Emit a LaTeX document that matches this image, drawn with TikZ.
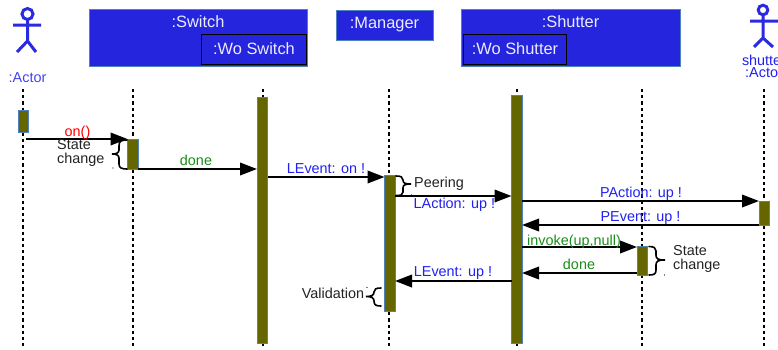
\documentclass[tikz,border=0pt]{standalone}
\usepackage{fontspec}
\setmainfont{Liberation Sans}
\usetikzlibrary{arrows.meta}
\definecolor{boxblue}{HTML}{2525DD}
\definecolor{edgeblue}{HTML}{4F81BD}
\definecolor{txtblue}{HTML}{2020F0}
\definecolor{actblue}{HTML}{2A2AE0}
\definecolor{txtgreen}{HTML}{1A8C1A}
\definecolor{olive}{HTML}{666600}
\definecolor{txtgrey}{HTML}{222222}
\tikzset{
  x=1pt,y=-1pt,
  lifeline/.style={black,line width=2pt,dash pattern=on 3.2pt off 3pt},
  activation/.style={draw=edgeblue,fill=olive,line width=1pt,inner sep=0pt,outer sep=0pt,anchor=north west,minimum width=10.5pt},
  objbox/.style={draw=edgeblue,fill=boxblue,line width=1pt,inner sep=0pt,outer sep=0pt,anchor=north west},
  innerbox/.style={draw=black,fill=boxblue,line width=1pt,inner sep=0pt,outer sep=0pt,anchor=north west},
  boxtext/.style={text=white!92!blue,font=\fontsize{16.4}{18}\selectfont,inner sep=0pt},
  lbl/.style={font=\fontsize{14.4}{14}\selectfont,inner sep=0pt},
  msg/.style={black,line width=2pt,-{Triangle[length=17pt,width=12.5pt]},shorten >=0pt},
  brace/.style={black,line width=1.6pt,line cap=round},
  stick/.style={actblue,line width=3pt},
  speck/.style={fill=black,inner sep=0pt,minimum size=1.2pt,circle,draw=none},
}
\begin{document}
\begin{tikzpicture}
\useasboundingbox (0,0) rectangle (778,349);
% object boxes
\node[objbox,minimum width=218pt,minimum height=57pt] (switch) at (89,9) {};
\node[innerbox,minimum width=104.5pt,minimum height=30pt] (woswitch) at (201.5,34.5) {};
\node[objbox,minimum width=97pt,minimum height=30pt] (manager) at (336,10) {};
\node[objbox,minimum width=218.5pt,minimum height=57pt] (shutter) at (461.5,9) {};
\node[innerbox,minimum width=103.5pt,minimum height=30pt] (woshutter) at (463,34.5) {};
\node[boxtext] (tswitch) at (198,21.5) {:Switch};
\node[boxtext] (twoswitch) at (254,48.5) {:Wo Switch};
\node[boxtext] (tmanager) at (384.5,25) {:Manager};
\node[boxtext] (tshutter) at (570.5,21.5) {:Shutter};
\node[boxtext] (twoshutter) at (515,48.5) {:Wo Shutter};
% actors
\draw[stick] (27.5,14) circle (5.5);
\draw[stick] (13,25) -- (41,25) (27.5,19) -- (27.5,41) (17,52) -- (27.5,41) -- (36,52);
\draw[stick] (763,10) circle (4.8);
\draw[stick] (750,21) -- (778,21) (763,15) -- (763,38) (754,47) -- (763,38) -- (773,47);
\node[lbl,text=txtblue!85!white] (tactor) at (27.5,78) {:Actor};
\node[lbl,text=txtblue,align=center,font=\fontsize{14.4}{12.4}\selectfont] (tactor2) at (764,66.5) {shutter\\:Actor};
% lifelines
\foreach \n/\x in {a/23,b/133,c/263,d/389,e/516.5,f/642,g/764}{
  \coordinate (\n top) at (\x,89);
  \coordinate (\n bot) at (\x,348);
  \draw[lifeline] (\n top) -- (\n bot);
}
% activations
\node[activation,minimum height=22pt] (barA) at (18,110) {};
\node[activation,minimum height=29.5pt] (barB) at (127.5,139.5) {};
\node[activation,minimum height=246pt] (barC) at (257,97) {};
\node[activation,minimum height=136pt] (barD) at (384.5,175) {};
\node[activation,minimum height=248pt] (barE) at (511.5,95) {};
\node[activation,minimum height=28.5pt] (barF) at (637,246.5) {};
\node[activation,minimum height=24pt] (barG) at (759,201) {};
% messages
\coordinate (onstart) at (26,139);
\draw[msg] (onstart) -- (barB.west |- onstart);
\draw[msg] (barB.east |- 0,169) -- (barC.west |- 0,169);
\draw[msg] (barC.east |- 0,177) -- (barD.west |- 0,177);
\draw[msg] (barD.east |- 0,196) -- (barE.west |- 0,196);
\draw[msg] (barE.west |- 0,281) -- (barD.east |- 0,281);
\draw[msg] (barE.east |- 0,201) -- (barG.west |- 0,201);
\draw[msg] (barG.west |- 0,225) -- (barE.east |- 0,225);
\draw[msg] (barE.east |- 0,247) -- (barF.west |- 0,247);
\draw[msg] (barF.west |- 0,273) -- (barE.east |- 0,273);
% braces
\draw[brace] (127,140) .. controls (121,140) and (119,141) .. (119,146) -- (119,150) .. controls (119,153) and (116,154) .. (112,154) .. controls (116,154) and (119,155) .. (119,158) -- (119,164) .. controls (119,168) and (122,169) .. (127,169);
\draw[brace] (396,176) .. controls (401,176) and (403,177) .. (403,180) .. controls (403,183) and (405,184) .. (411,184) .. controls (405,184) and (403,185) .. (403,188) -- (403,192) .. controls (403,195) and (401,195.5) .. (396,195.5);
\draw[brace] (381,288) .. controls (376,288) and (374,289) .. (374,292) .. controls (374,295) and (372,296.5) .. (366,296.5) .. controls (372,296.5) and (374,298) .. (374,301) .. controls (374,305) and (376,306) .. (381,306);
\draw[brace] (649,246.5) .. controls (654,246.5) and (656,248) .. (656,251) -- (656,255) .. controls (656,259) and (658,260) .. (665,260) .. controls (658,260) and (656,261) .. (656,265) -- (656,270) .. controls (656,274) and (654,275) .. (649,275);
\node[speck] (s1) at (113,168) {};
\node[speck] (s2) at (411.5,195) {};
\node[speck] (s3) at (367,287.5) {};
\node[speck] (s4) at (664.5,275) {};
% labels
\node[lbl,text=red] (lon) at (77.5,132.5) {on()};
\node[lbl,text=txtgrey,anchor=west] (ls1a) at (57,145) {State};
\node[lbl,text=txtgrey,anchor=west] (ls1b) at (57,160) {change};
\node[lbl,text=txtgreen] (ldone1) at (196,160) {done};
\node[lbl,text=txtblue] (lev1) at (326,168.5) {LEvent: on !};
\node[lbl,text=txtgrey,anchor=west] (lpeer) at (414,183.5) {Peering};
\node[lbl,text=txtblue,anchor=west] (lact) at (413.5,204.5) {LAction: up !};
\node[lbl,text=txtblue] (lev2) at (453,273.5) {LEvent: up !};
\node[lbl,text=txtgrey] (lval) at (333,293) {Validation};
\node[lbl,text=txtblue] (lpa) at (641,193.5) {PAction: up !};
\node[lbl,text=txtblue] (lpe) at (640.5,218) {PEvent: up !};
\node[lbl,text=txtgreen] (linv) at (574,241.5) {invoke(up,null)};
\node[lbl,text=txtgreen] (ldone2) at (579,264) {done};
\node[lbl,text=txtgrey,anchor=west] (ls2a) at (673,251) {State};
\node[lbl,text=txtgrey,anchor=west] (ls2b) at (673,265.5) {change};
\end{tikzpicture}
\end{document}
